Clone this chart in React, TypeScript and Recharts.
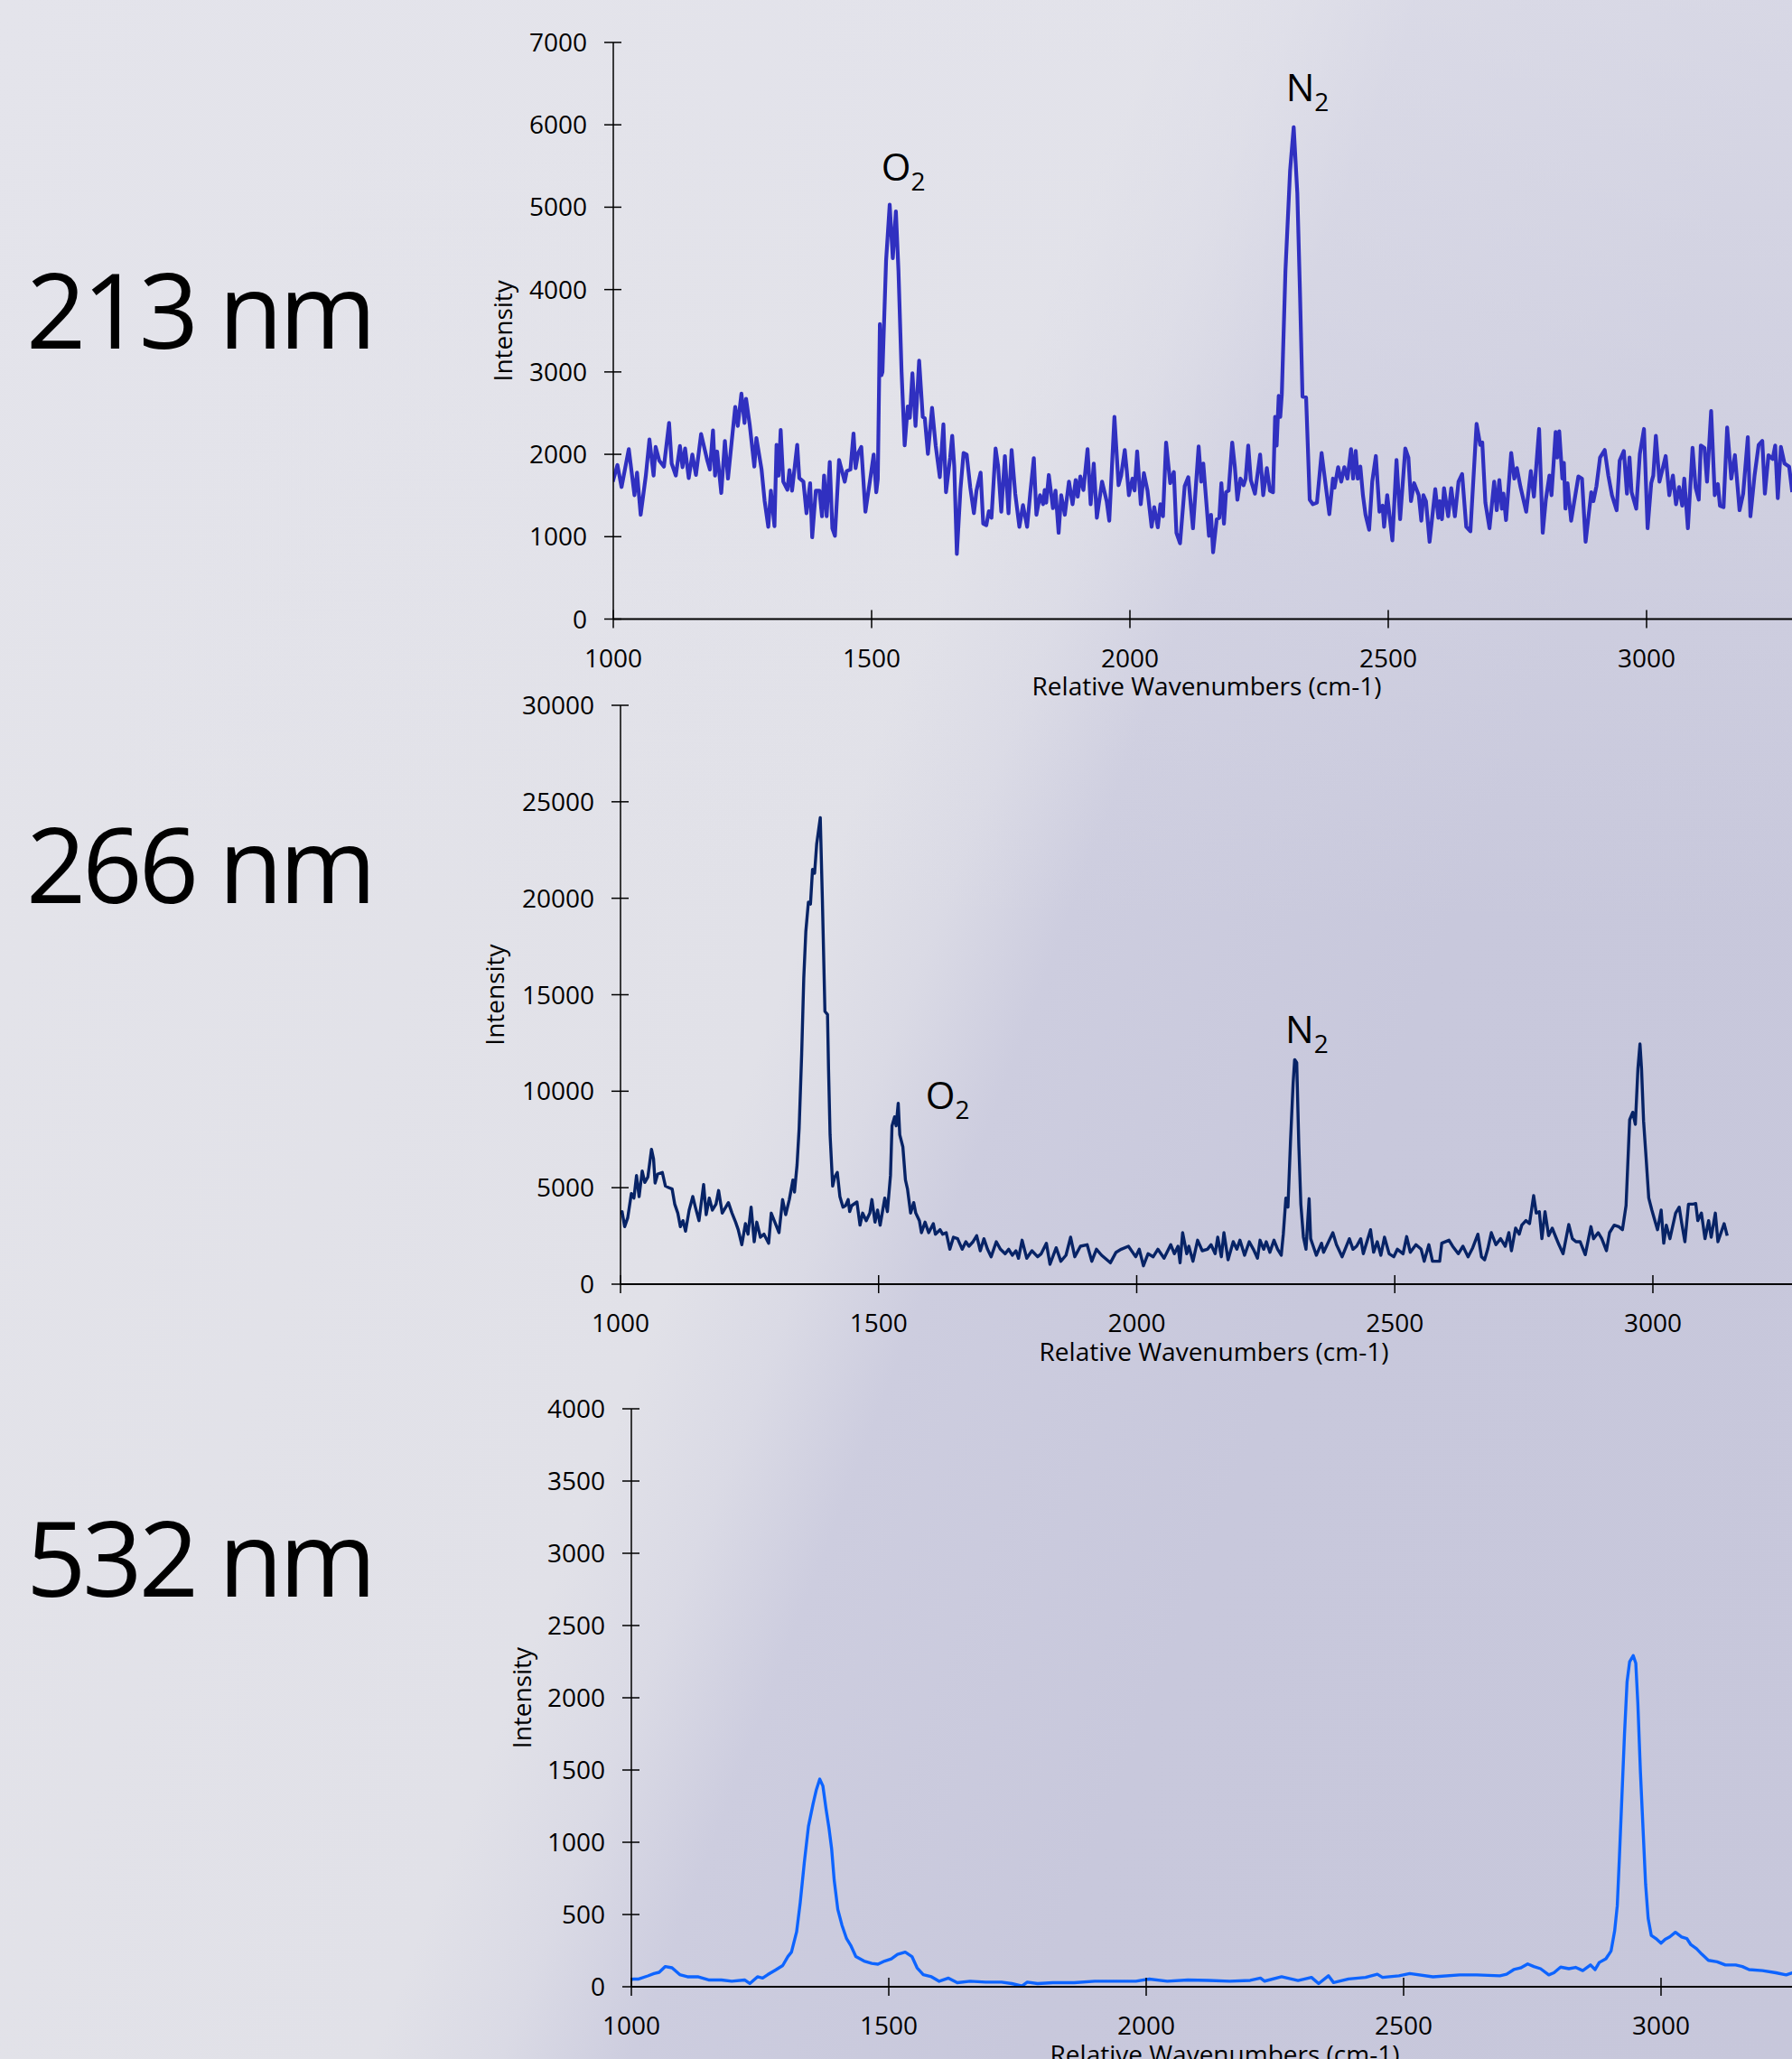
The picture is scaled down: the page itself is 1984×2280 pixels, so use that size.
import React from 'react';
import { LineChart, Line, XAxis, YAxis, ReferenceDot } from 'recharts';

const FONT = '"Open Sans", "Noto Sans", "DejaVu Sans", sans-serif';

const panelLabels = ['213 nm', '266 nm', '532 nm'];
const xTitle = 'Relative Wavenumbers (cm-1)';
const yTitle = 'Intensity';
const xTicks = [1000, 1500, 2000, 2500, 3000];
const yTicks213 = [0, 1000, 2000, 3000, 4000, 5000, 6000, 7000];
const yTicks266 = [0, 5000, 10000, 15000, 20000, 25000, 30000];
const yTicks532 = [0, 500, 1000, 1500, 2000, 2500, 3000, 3500, 4000];

const wn213 = [999,1008,1016,1030,1041,1046,1053,1063,1070,1078,1082,1089,1098,1108,1113,1121,1129,1134,1139,1146,1153,1160,1170,1182,1187,1193,1197,1201,1209,1216,1222,1229,1236,1241,1248,1254,1257,1264,1273,1277,1287,1293,1300,1305,1312,1316,1320,1324,1329,1337,1341,1346,1356,1360,1368,1374,1381,1385,1392,1399,1404,1408,1413,1419,1424,1429,1437,1448,1452,1459,1465,1469,1474,1480,1488,1497,1504,1509,1512,1516,1519,1521,1528,1535,1541,1547,1552,1558,1564,1570,1574,1579,1585,1592,1599,1603,1609,1617,1624,1632,1639,1644,1652,1656,1660,1665,1672,1678,1684,1691,1698,1703,1711,1716,1722,1727,1732,1740,1745,1751,1758,1765,1771,1778,1786,1793,1801,1807,1814,1819,1826,1832,1835,1838,1843,1851,1856,1862,1867,1874,1882,1889,1895,1899,1904,1910,1918,1924,1930,1936,1946,1955,1960,1970,1978,1983,1990,1994,1998,2005,2009,2014,2021,2027,2034,2042,2047,2054,2059,2064,2070,2078,2085,2090,2097,2106,2113,2122,2133,2138,2142,2153,2157,2161,2168,2173,2177,2182,2186,2191,2198,2203,2208,2214,2220,2224,2229,2234,2242,2252,2258,2265,2271,2277,2281,2284,2288,2291,2294,2301,2310,2317,2324,2329,2334,2341,2348,2354,2362,2371,2378,2386,2393,2396,2403,2409,2415,2421,2428,2432,2437,2441,2446,2451,2456,2463,2469,2476,2483,2489,2492,2498,2508,2516,2523,2533,2539,2544,2550,2559,2564,2568,2573,2580,2591,2597,2600,2604,2608,2616,2622,2629,2636,2643,2651,2659,2671,2678,2682,2688,2696,2705,2710,2715,2720,2723,2728,2738,2744,2749,2756,2767,2776,2782,2792,2799,2805,2812,2816,2824,2827,2831,2837,2840,2843,2847,2854,2868,2875,2882,2893,2897,2903,2910,2919,2926,2933,2942,2948,2956,2962,2967,2971,2980,2987,2995,3002,3009,3013,3018,3025,3037,3044,3051,3057,3063,3069,3073,3080,3089,3095,3101,3105,3112,3117,3125,3132,3138,3142,3149,3156,3164,3171,3180,3187,3196,3201,3209,3217,3224,3229,3236,3244,3249,3254,3260,3267,3276,3282];
const int213 = [1668,1870,1603,2063,1504,1778,1266,1742,2180,1742,2089,1924,1851,2381,1888,1742,2100,1844,2070,1712,1997,1749,2246,1924,1815,2290,1742,2034,1530,2162,1705,2143,2575,2345,2736,2381,2674,2363,1851,2198,1815,1431,1120,1559,1128,2115,1742,2297,1668,1570,1807,1559,2115,1712,1668,1285,1650,992,1559,1559,1248,1742,1248,1906,1102,1011,1932,1668,1796,1815,2253,1833,2016,2089,1303,1686,1997,1540,1700,3580,2960,3000,4350,5030,4380,4950,4227,3000,2110,2582,2443,2984,2345,3138,2454,2436,2005,2564,2107,1723,2363,1540,1961,2224,1851,791,1577,2016,1997,1595,1285,1559,1778,1157,1139,1310,1230,2070,1851,1303,1979,1285,2052,1522,1120,1383,1120,1522,1954,1266,1504,1394,1566,1413,1749,1347,1559,1047,1504,1266,1668,1394,1687,1486,1731,1566,2063,1394,1888,1230,1668,1431,1194,2454,1625,1742,2052,1796,1504,1705,1560,2034,1394,1771,1559,1120,1358,1113,1394,1248,2143,1650,1785,1047,919,1613,1723,1102,2096,1668,1888,1011,1266,810,1212,1230,1650,1157,1540,1559,2143,1851,1449,1705,1625,1705,2107,1687,1522,1997,1504,1833,1559,1540,2454,2107,2710,2454,2728,4227,5444,5972,5170,4000,2700,2692,1449,1394,1413,2016,1668,1274,1705,1595,1844,1668,1844,1705,2063,1705,2041,1705,1851,1504,1266,1084,1668,1979,1303,1376,1120,1504,956,1932,1212,2070,1961,1431,1650,1504,1194,1504,1431,938,1577,1230,1431,1212,1588,1248,1588,1248,1668,1760,1120,1065,2370,2115,2144,1413,1102,1668,1321,1687,1340,1522,1201,2016,1705,1833,1603,1303,1796,1486,2308,1047,1449,1742,1504,2271,1961,2279,1705,1895,1340,1650,1194,1731,1705,938,1540,1431,1613,1961,2052,1742,1504,1321,1924,2041,1522,1961,1540,1340,2005,2308,1102,1650,1742,2224,1668,1979,1504,1742,1394,1603,1376,1705,1102,2078,1595,1449,2107,2078,1668,2527,1504,1640,1376,1358,2326,1705,1990,1321,1522,2209,1248,1742,2115,2162,1522,1990,1943,2107,1467,2089,1888,1851,1540];

const wn266 = [998,1003,1008,1014,1021,1026,1031,1036,1042,1047,1053,1060,1064,1067,1072,1081,1087,1093,1100,1105,1111,1116,1121,1126,1133,1140,1145,1152,1161,1166,1172,1178,1185,1190,1197,1204,1209,1216,1223,1228,1235,1242,1247,1253,1259,1264,1271,1278,1287,1292,1299,1307,1314,1320,1327,1334,1337,1342,1346,1351,1355,1359,1364,1368,1372,1376,1380,1387,1391,1396,1401,1403,1406,1411,1415,1420,1425,1431,1436,1441,1444,1448,1458,1464,1469,1476,1483,1487,1493,1498,1503,1512,1517,1523,1526,1531,1534,1538,1541,1547,1552,1556,1562,1568,1572,1579,1583,1590,1597,1606,1610,1619,1624,1631,1638,1645,1653,1662,1669,1675,1683,1690,1697,1704,1711,1718,1728,1736,1745,1752,1759,1766,1771,1778,1787,1797,1808,1815,1825,1832,1844,1853,1863,1872,1880,1891,1904,1913,1922,1932,1949,1960,1970,1984,1998,2005,2013,2022,2032,2041,2053,2066,2073,2080,2084,2089,2097,2101,2109,2118,2127,2137,2144,2152,2157,2164,2169,2177,2187,2194,2200,2209,2218,2226,2234,2239,2246,2251,2258,2266,2273,2280,2284,2289,2293,2298,2303,2306,2310,2314,2318,2323,2328,2334,2337,2342,2348,2358,2362,2380,2387,2398,2412,2419,2426,2434,2439,2453,2459,2466,2473,2480,2489,2498,2505,2516,2523,2530,2541,2551,2557,2566,2573,2587,2591,2605,2612,2623,2632,2642,2651,2661,2668,2674,2680,2687,2696,2705,2714,2721,2726,2734,2741,2746,2754,2761,2769,2774,2780,2785,2791,2798,2805,2812,2818,2826,2837,2844,2851,2859,2869,2880,2885,2894,2901,2910,2916,2925,2934,2941,2948,2955,2961,2966,2971,2975,2978,2982,2987,2992,2998,3003,3009,3016,3021,3026,3033,3044,3051,3056,3062,3069,3078,3083,3087,3094,3101,3108,3113,3121,3126,3132,3138,3144];
const int266 = [3682,3760,2980,3448,4696,4462,5632,4540,5866,5273,5554,6989,6490,5242,5710,5788,5086,5008,4930,4150,3682,2980,3292,2746,3838,4540,3994,3292,5164,3604,4462,3838,4150,4852,3682,3994,4228,3682,3214,2824,2044,3136,2590,3994,2200,3214,2434,2590,2122,3682,3214,2668,4384,3604,4384,5398,4774,6178,8050,11950,15850,18276,19800,19700,21500,21300,22800,24178,20000,14134,13978,11170,7738,5086,5554,5788,4540,3994,4072,4384,3760,4072,4259,3058,3682,3292,3682,4384,3214,3838,3058,4462,3760,5632,8206,8674,8206,9376,7738,7114,5398,4930,3682,4228,3682,3292,2668,3214,2668,3136,2590,2824,2590,2668,1810,2434,2356,1810,2200,1966,2200,2512,1732,2356,1810,1420,2200,1810,1576,1810,1498,1732,1342,2278,1342,1732,1420,1576,2122,1030,1888,1186,1498,2434,1420,1966,2044,1186,1810,1498,1108,1654,1810,1966,1420,1810,952,1576,1420,1810,1342,2044,1576,1966,1108,2668,1576,1966,1186,2278,1732,1810,2044,1576,2434,1420,2668,1264,2200,1810,2278,1498,2200,1810,1342,2278,1810,2200,1654,2278,1810,1498,2590,4462,3994,7426,10390,11638,11482,7270,4150,2434,1810,4431,2356,1966,1498,2122,1654,2668,2044,1420,2356,1810,1966,2356,1576,2824,1654,2200,1498,2434,1576,1420,1810,1576,2465,1654,2044,1810,1186,2044,1186,1186,2122,2278,1966,1576,1966,1420,1888,2590,1420,1264,1810,2668,2044,2356,1966,2668,1732,2902,2590,3058,3292,3136,4587,3682,3760,2356,3760,2512,2902,2434,2044,1576,3089,2356,2200,2200,1529,2980,2356,2668,2356,1732,2668,3058,2980,2824,4072,8518,8908,8284,11170,12449,11170,8440,6490,4462,3838,3370,2824,3838,2122,3058,2356,3682,3994,3136,2200,4150,4150,4181,3292,3682,2356,3292,2434,3682,2200,2668,3136,2512];

const wn532 = [1000,1003,1013,1032,1044,1054,1066,1079,1094,1109,1129,1150,1175,1195,1220,1230,1245,1255,1265,1280,1294,1304,1311,1321,1328,1336,1344,1353,1359,1366,1372,1378,1384,1389,1394,1401,1409,1418,1426,1436,1452,1467,1479,1492,1505,1517,1532,1545,1555,1567,1583,1598,1616,1633,1658,1688,1719,1739,1759,1769,1789,1819,1860,1900,1940,1980,2006,2041,2081,2121,2162,2202,2222,2230,2263,2295,2321,2335,2354,2364,2393,2426,2449,2459,2491,2512,2557,2609,2642,2687,2700,2714,2727,2741,2753,2766,2782,2792,2805,2821,2834,2848,2863,2872,2880,2893,2903,2910,2915,2919,2924,2929,2934,2939,2946,2951,2955,2960,2965,2970,2975,2981,2990,3000,3008,3017,3028,3040,3050,3058,3069,3079,3092,3109,3125,3145,3158,3171,3197,3223,3243,3255];
const int532 = [50,53,53,75,91,100,140,131,84,69,69,47,47,38,47,22,69,60,84,116,147,209,240,380,582,862,1110,1266,1359,1437,1390,1235,1095,955,737,535,427,333,287,209,178,162,156,178,193,224,240,209,131,84,69,38,60,28,38,32,32,22,6,32,22,28,28,38,38,38,53,38,47,44,38,44,60,39,69,43,65,22,76,29,54,65,87,65,76,91,69,82,82,76,87,119,130,158,140,125,82,97,136,125,134,112,151,119,168,194,248,388,560,883,1313,1744,2109,2249,2292,2239,1959,1485,1098,711,474,356,334,302,328,345,377,345,334,291,263,226,183,173,151,151,140,119,112,97,82,97];

const annot213 = [
  { main: 'O', sub: '2', x: 1519, y: 5323 },
  { main: 'N', sub: '2', x: 2302, y: 6288 },
];
const annot266 = [
  { main: 'O', sub: '2', x: 1591, y: 9079 },
  { main: 'N', sub: '2', x: 2288, y: 12496 },
];

const toData = (xs: number[], ys: number[]) => xs.map((x, i) => ({ x, y: ys[i] }));

const YTick = (props: any) => {
  const { x, y, payload } = props;
  return (
    <g>
      <line x1={x - 10} x2={x + 9} y1={y} y2={y} stroke="#000" strokeWidth={1.5} />
      <text x={x - 29} y={y + 10} textAnchor="end" fontSize={28} fontFamily={FONT} fill="#000">
        {payload.value}
      </text>
    </g>
  );
};

const XTick = (props: any) => {
  const { x, y, payload } = props;
  return (
    <g>
      <line x1={x} x2={x} y1={y - 10} y2={y + 10} stroke="#000" strokeWidth={1.5} />
      <text x={x} y={y + 53} textAnchor="middle" fontSize={28} fontFamily={FONT} fill="#000">
        {payload.value}
      </text>
    </g>
  );
};

const Annot = (props: any) => {
  const { cx, cy, main, sub } = props;
  return (
    <text x={cx} y={cy} fontSize={42} fontFamily={FONT} fill="#000">
      {main}
      <tspan fontSize={28} dy={11}>{sub}</tspan>
    </text>
  );
};

type PanelProps = {
  top: number;
  height: number;
  marginTop: number;
  axisX: number;
  xAxisHeight: number;
  xMax: number;
  yMax: number;
  yTicks: number[];
  data: { x: number; y: number }[];
  color: string;
  strokeWidth: number;
  yTitleOffset: number;
  annots: { main: string; sub: string; x: number; y: number }[];
};

const Panel = (p: PanelProps) => (
  <div style={{ position: 'absolute', left: 0, top: p.top }}>
    <LineChart width={1984} height={p.height} data={p.data} margin={{ top: p.marginTop, right: 0, bottom: 0, left: 0 }}>
      <XAxis
        dataKey="x"
        type="number"
        domain={[1000, p.xMax]}
        ticks={xTicks}
        interval={0}
        allowDataOverflow
        height={p.xAxisHeight}
        tickSize={0}
        tickMargin={0}
        tickLine={false}
        axisLine={{ stroke: '#000', strokeWidth: 2 }}
        tick={<XTick />}
        label={{
          content: (lp: any) => {
            const vb = lp.viewBox || {};
            return (
              <text x={vb.x + 657} y={vb.y + 84.5} textAnchor="middle" fontSize={28} fontFamily={FONT} fill="#000">
                {xTitle}
              </text>
            );
          },
        }}
      />
      <YAxis
        dataKey="y"
        type="number"
        domain={[0, p.yMax]}
        ticks={p.yTicks}
        interval={0}
        allowDataOverflow
        width={p.axisX}
        tickSize={0}
        tickMargin={0}
        tickLine={false}
        axisLine={{ stroke: '#000', strokeWidth: 1.5 }}
        tick={<YTick />}
        label={{
          content: (lp: any) => {
            const vb = lp.viewBox || {};
            const bx = vb.x + vb.width - p.yTitleOffset;
            const cy = vb.y + vb.height / 2;
            return (
              <text x={bx} y={cy} transform={`rotate(-90 ${bx} ${cy})`} textAnchor="middle" fontSize={28} fontFamily={FONT} fill="#000">
                {yTitle}
              </text>
            );
          },
        }}
      />
      <Line
        type="linear"
        dataKey="y"
        stroke={p.color}
        strokeWidth={p.strokeWidth}
        strokeLinejoin="round"
        dot={false}
        activeDot={false}
        isAnimationActive={false}
      />
      {p.annots.map((a, i) => (
        <ReferenceDot
          key={i}
          x={a.x}
          y={a.y}
          r={0}
          ifOverflow="visible"
          shape={(sp: any) => <Annot cx={sp.cx} cy={sp.cy} main={a.main} sub={a.sub} />}
        />
      ))}
    </LineChart>
  </div>
);

export default function App() {
  return (
    <div
      style={{
        position: 'absolute',
        left: 0,
        top: 0,
        width: 1984,
        height: 2280,
        overflow: 'hidden',
        background:
          'linear-gradient(180deg, rgba(228,228,236,0.55) 0%, rgba(228,228,236,0.25) 25%, rgba(228,228,236,0) 45%), linear-gradient(111deg, #e4e4ea 0%, #e1e1e8 45%, #dadae5 50%, #cdcddf 55%, #c8c8dc 70%, #c7c7db 100%)',
      }}
    >
      <svg width={1984} height={2280} style={{ position: 'absolute', left: 0, top: 0 }}>
        {panelLabels.map((t, i) => (
          <text key={t} x={29} y={[386, 1000, 1768][i]} fontSize={116} letterSpacing={-4} fontFamily={FONT} fill="#000">
            {t}
          </text>
        ))}
      </svg>
      <Panel
        top={0}
        height={785}
        marginTop={47}
        axisX={679}
        xAxisHeight={99.5}
        xMax={3281.5}
        yMax={7000}
        yTicks={yTicks213}
        data={toData(wn213, int213)}
        color="#3030c0"
        strokeWidth={4.2}
        yTitleOffset={112}
        annots={annot213}
      />
      <Panel
        top={740}
        height={780}
        marginTop={41}
        axisX={687}
        xAxisHeight={98}
        xMax={3269.5}
        yMax={30000}
        yTicks={yTicks266}
        data={toData(wn266, int266)}
        color="#072366"
        strokeWidth={3.4}
        yTitleOffset={129}
        annots={annot266}
      />
      <Panel
        top={1520}
        height={760}
        marginTop={40}
        axisX={699}
        xAxisHeight={80}
        xMax={3254.4}
        yMax={4000}
        yTicks={yTicks532}
        data={toData(wn532, int532)}
        color="#0d64ff"
        strokeWidth={3.4}
        yTitleOffset={111}
        annots={[]}
      />
    </div>
  );
}
